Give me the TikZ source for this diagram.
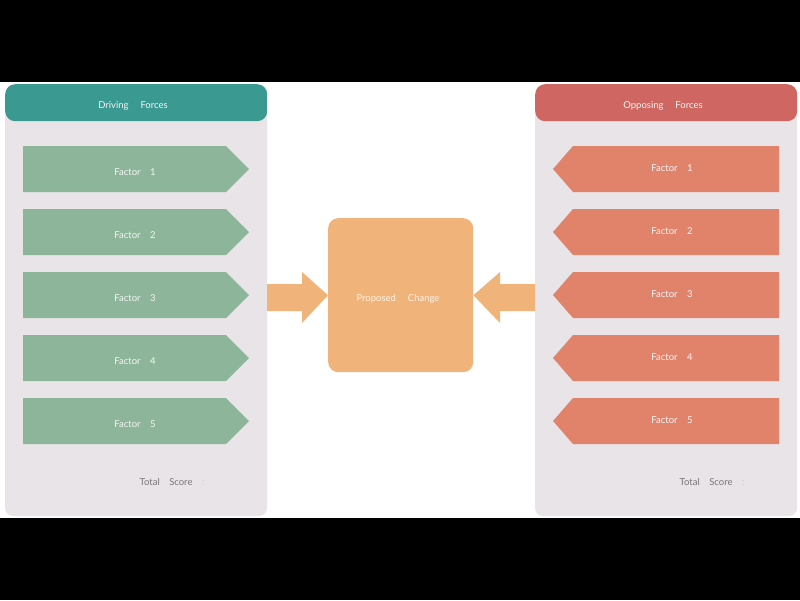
\documentclass[tikz,border=0pt]{standalone}
\usepackage{fontspec}
\setmainfont{Lato}
\definecolor{panelbg}{HTML}{E9E4E8}
\definecolor{tealhead}{HTML}{3A9A92}
\definecolor{redhead}{HTML}{CF6662}
\definecolor{greenf}{HTML}{8DB59A}
\definecolor{redf}{HTML}{E0836A}
\definecolor{orangec}{HTML}{F0B47A}
\definecolor{scoretxt}{HTML}{7A7478}
\tikzset{
  panelbox/.style={fill=panelbg, draw=none, rounded corners=8pt},
  headbox/.style={draw=none, rounded corners=10pt},
  lbl/.style={text=white!92!gray, font=\fontsize{9.5}{11}\selectfont, inner sep=0pt},
  scorelbl/.style={text=scoretxt, font=\fontsize{9.5}{11}\selectfont, inner sep=0pt},
}
\begin{document}
\begin{tikzpicture}[x=1pt,y=-1pt]
\useasboundingbox (0,0) rectangle (800,600);
\fill[black] (0,0) rectangle (800,82);
\fill[black] (0,518) rectangle (800,600);
\fill[white] (0,82) rectangle (800,518);
% panels
\fill[panelbox] (5,100) rectangle (267,516);
\fill[panelbox] (535,100) rectangle (797,516);
\node[headbox, fill=tealhead, minimum width=262pt, minimum height=37pt, anchor=north west] (dh) at (5,84) {};
\node[headbox, fill=redhead, minimum width=262pt, minimum height=37pt, anchor=north west] (oh) at (535,84) {};
\node[lbl] (dht) at (133,105.5) {Driving\quad\ Forces};
\node[lbl] (oht) at (663,105.5) {Opposing\quad\ Forces};
% factors
\foreach \i in {1,...,5}{
  \pgfmathsetmacro{\yt}{146+63*(\i-1)}
  \pgfmathsetmacro{\yb}{\yt+46}
  \pgfmathsetmacro{\ym}{\yt+23}
  \fill[greenf] (23,\yt) -- (226,\yt) -- (249,\ym) -- (226,\yb) -- (23,\yb) -- cycle;
  \node[lbl] (lf\i) at (135,\ym+3) {Factor\quad\i};
  \fill[redf] (779,\yt) -- (573,\yt) -- (553,\ym) -- (573,\yb) -- (779,\yb) -- cycle;
  \node[lbl] (rf\i) at (672,\ym-1) {Factor\quad\i};
}
% center
\node[fill=orangec, rounded corners=10pt, minimum width=145pt, minimum height=154pt, anchor=north west] (pc) at (328,218) {};
\node[lbl, text=white!90!orange] (pct) at (398,298.5) {Proposed\quad\ Change};
% arrows
\fill[orangec] (267,284) -- (302,284) -- (302,272) -- (pc.west) -- (302,323) -- (302,311) -- (267,311) -- cycle;
\fill[orangec] (535,284) -- (500,284) -- (500,272) -- (pc.east) -- (500,323) -- (500,311) -- (535,311) -- cycle;
% scores
\node[scorelbl] (ls) at (172,482) {Total\quad Score\quad{\color{scoretxt!40}:}};
\node[scorelbl] (rs) at (712,482) {Total\quad Score\quad{\color{scoretxt!40}:}};
\end{tikzpicture}
\end{document}
